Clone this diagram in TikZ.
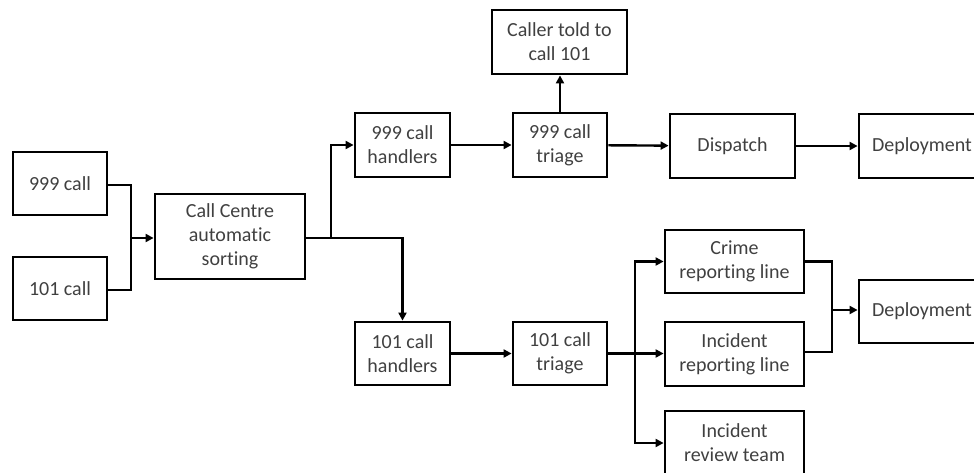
\documentclass[tikz,border=0pt]{standalone}
\usepackage{fontspec}
\setmainfont{Carlito}[Ligatures=NoCommon]
\usetikzlibrary{arrows.meta}
\begin{document}
\begin{tikzpicture}[x=1pt,y=-1pt,
  box/.style={draw=black,line width=2.8pt,align=center,inner sep=0pt,
    text=black!75,font=\fontsize{20}{24}\selectfont},
  conn/.style={line width=2.4pt,draw=black},
  arr/.style={conn,-{Triangle[length=8pt,width=8pt]}}]
\useasboundingbox (0,0) rectangle (974,472);
\clip (0,0) rectangle (974,472);
\node[box,minimum width=94pt,minimum height=63pt] (c999) at (60,183.5) {999 call};
\node[box,minimum width=94pt,minimum height=63pt] (c101) at (60,288.5) {101 call};
\node[box,minimum width=150pt,minimum height=85pt] (ccs) at (230,236.5) {Call Centre\\automatic\\sorting};
\node[box,minimum width=95pt,minimum height=64pt] (h999) at (402.5,145) {999 call\\handlers};
\node[box,minimum width=94pt,minimum height=64pt] (t999) at (560,145) {999 call\\triage};
\node[box,minimum width=135pt,minimum height=64pt] (told) at (559.5,42) {Caller told to\\call 101};
\node[box,minimum width=125pt,minimum height=64pt] (disp) at (732.5,146) {Dispatch};
\node[box,minimum width=126pt,minimum height=64pt] (dep1) at (922,146) {Deployment};
\node[box,minimum width=139pt,minimum height=63pt] (crime) at (734.5,261.5) {Crime\\reporting line};
\node[box,minimum width=126pt,minimum height=63pt] (dep2) at (922,311.5) {Deployment};
\node[box,minimum width=139pt,minimum height=64pt] (increp) at (734.5,354) {Incident\\reporting line};
\node[box,minimum width=139pt,minimum height=64pt] (increv) at (734.5,443) {Incident\\review team};
\node[box,minimum width=95pt,minimum height=63pt] (h101) at (402.5,353.5) {101 call\\handlers};
\node[box,minimum width=94pt,minimum height=63pt] (t101) at (560,353.5) {101 call\\triage};
\coordinate (m1) at (131,238);
\coordinate (s1) at (331,238);
\coordinate (s2) at (635,353.5);
\coordinate (m2) at (832,310);
\draw[conn] (c999.east |- 0,185) -| (m1);
\draw[conn] (c101.east |- 0,290) -| (m1);
\draw[arr] (m1) -- (ccs.west |- m1);
\draw[conn] (ccs.east |- s1) -- (s1);
\draw[arr] (s1) |- (h999.west);
\draw[arr] (s1) -| (h101.north);
\draw[arr] (h999) -- (t999);
\draw[arr] (t999.north) -- (t999.north |- told.south);
\draw[arr] (t999) -- (disp);
\draw[arr] (disp) -- (dep1);
\draw[arr] (h101) -- (t101);
\draw[conn] (t101.east) -- (s2);
\draw[arr] (s2) |- (crime.west);
\draw[arr] (s2) -- (increp.west |- s2);
\draw[arr] (s2) |- (increv.west);
\draw[conn] (crime.east) -| (m2);
\draw[conn] (increp.east |- 0,352) -| (m2);
\draw[arr] (m2) -- (dep2.west |- m2);
\end{tikzpicture}
\end{document}
